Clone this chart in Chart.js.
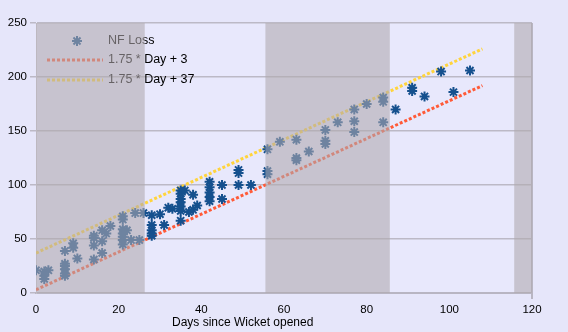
<!DOCTYPE html>
<html>
<head>
<meta charset="utf-8">
<script src="https://cdn.jsdelivr.net/npm/chart.js@4/dist/chart.umd.min.js"></script>
<style>
  html, body { margin: 0; padding: 0; background: #e6e6fa; }
  #wrap { width: 568px; height: 332px; }
</style>
</head>
<body>
<div id="wrap"><canvas id="lossChart"></canvas></div>
<script>
// NF loss readings: day since the wicket opened, and loss value
const lossDays = [
  0, 2, 2, 2, 3,
  7, 7, 7, 7, 7, 7,
  9, 9, 10,
  14, 14, 14, 14,
  16, 16, 16, 17, 18,
  21, 21, 21, 21, 21, 21, 21, 22, 23, 24, 25, 26,
  28, 28, 28, 28, 28, 30, 31, 32, 33,
  35, 35, 35, 35, 35, 35, 35, 36, 37, 38, 38, 39,
  42, 42, 42, 42, 42, 45, 45,
  49, 49, 49, 52,
  56, 56, 56, 59, 63, 63, 63, 66,
  70, 70, 70, 73, 77, 77, 77, 80,
  84, 84, 84, 87, 91, 91, 94, 98, 101, 105
];
const lossValues = [
  21, 20, 16, 13, 21,
  39, 27, 25, 22, 18, 16,
  46, 42, 32,
  53, 51, 44, 31,
  58, 48, 37, 55, 62,
  71, 68, 59, 55, 52, 49, 45, 58, 49, 74, 49, 74,
  72, 63, 58, 55, 53, 73, 63, 79, 78,
  95, 92, 87, 84, 80, 76, 67, 95, 75, 91, 77, 81,
  103, 98, 93, 89, 85, 100, 87,
  114, 111, 100, 100,
  133, 113, 110, 140, 142, 125, 123, 131,
  151, 141, 138, 158, 170, 159, 149, 175,
  181, 177, 158, 170, 190, 187, 182, 205, 186, 206
];

// reference lines 1.75 * Day + c, end points
const lineDays = [0, 108];
const lowLine = [3, 192];
const highLine = [37, 226];

// shaded periods along the day axis
const bandStarts = [0, 55.5, 115.7];
const bandEnds = [26.3, 85.6, 120];

const xTicks = [0, 20, 40, 60, 80, 100, 120];
const yTicks = [0, 50, 100, 150, 200, 250];

const FONT = "'Liberation Sans', Arial, sans-serif";
const BLUE = "#15508e";
const RED = "#ff5a38";
const YELLOW = "#ffd43c";

const lossPoints = lossDays.map((d, i) => ({ x: d, y: lossValues[i] }));
const lowPoints = lineDays.map((d, i) => ({ x: d, y: lowLine[i] }));
const highPoints = lineDays.map((d, i) => ({ x: d, y: highLine[i] }));

// background + plot frame
const backdrop = {
  id: "backdrop",
  beforeDraw(chart) {
    const { ctx, chartArea: a } = chart;
    ctx.save();
    ctx.fillStyle = "#e6e6fa";
    ctx.fillRect(0, 0, chart.width, chart.height);
    ctx.fillStyle = "#e8e8fc";
    ctx.fillRect(a.left, a.top, a.right - a.left, a.bottom - a.top);
    ctx.restore();
  },
  afterDatasetsDraw(chart) {
    const { ctx, chartArea: a } = chart;
    ctx.save();
    ctx.strokeStyle = "#b8b5c2";
    ctx.lineWidth = 2;
    ctx.beginPath();
    ctx.moveTo(a.right, a.top);
    ctx.lineTo(a.right, a.bottom + 6);
    ctx.stroke();
    ctx.restore();
  }
};

// legend drawn inside the plot, top left
const innerLegend = {
  id: "innerLegend",
  afterDatasetsDraw(chart) {
    const { ctx } = chart;
    const ds = chart.data.datasets;
    ctx.save();
    ctx.font = "12.5px " + FONT;
    ctx.textBaseline = "middle";
    ctx.fillStyle = "#000";

    // star marker
    ctx.strokeStyle = BLUE;
    ctx.lineWidth = 2;
    const cx = 77, cy = 41, r = 5;
    ctx.beginPath();
    for (let k = 0; k < 4; k++) {
      const ang = k * Math.PI / 4;
      ctx.moveTo(cx - r * Math.cos(ang), cy - r * Math.sin(ang));
      ctx.lineTo(cx + r * Math.cos(ang), cy + r * Math.sin(ang));
    }
    ctx.stroke();
    ctx.fillText(ds[0].label, 108, 41);

    [[ds[1], 60], [ds[2], 80]].forEach(([d, y]) => {
      ctx.strokeStyle = d.borderColor;
      ctx.lineWidth = 3;
      ctx.setLineDash([3, 2]);
      ctx.beginPath();
      ctx.moveTo(47, y);
      ctx.lineTo(103, y);
      ctx.stroke();
      ctx.setLineDash([]);
      ctx.fillText(d.label, 108, y);
    });
    ctx.restore();
  }
};

// translucent grey periods laid over everything in the plot
const bands = {
  id: "bands",
  afterDraw(chart) {
    const { ctx, chartArea: a, scales: { x } } = chart;
    ctx.save();
    ctx.fillStyle = "rgba(176, 168, 174, 0.58)";
    bandStarts.forEach((s, i) => {
      const x0 = x.getPixelForValue(s);
      const x1 = x.getPixelForValue(bandEnds[i]);
      ctx.fillRect(x0, a.top, x1 - x0, a.bottom - a.top);
    });
    // axis title, set under the middle of the data
    ctx.fillStyle = "#000";
    ctx.font = "12px " + FONT;
    ctx.textAlign = "center";
    ctx.textBaseline = "middle";
    ctx.fillText("Days since Wicket opened", x.getPixelForValue(50), 323);
    ctx.restore();
  }
};

new Chart(document.getElementById("lossChart"), {
  type: "scatter",
  data: {
    datasets: [
      {
        label: "NF Loss",
        data: lossPoints,
        pointStyle: "star",
        pointRadius: 5,
        borderWidth: 2,
        borderColor: BLUE,
        backgroundColor: BLUE,
      },
      {
        label: "1.75 * Day + 3",
        type: "line",
        data: lowPoints,
        borderColor: RED,
        borderWidth: 3,
        borderDash: [3, 2],
        pointRadius: 0,
        fill: false,
      },
      {
        label: "1.75 * Day + 37",
        type: "line",
        data: highPoints,
        borderColor: YELLOW,
        borderWidth: 3,
        borderDash: [3, 2],
        pointRadius: 0,
        fill: false,
      },
    ],
  },
  options: {
    responsive: true,
    maintainAspectRatio: false,
    animation: false,
    layout: { padding: { top: 23, right: 36, left: 0, bottom: 0 } },
    scales: {
      x: {
        type: "linear",
        min: 0,
        max: 120,
        afterBuildTicks: (s) => { s.ticks = xTicks.map((v) => ({ value: v })); },
        afterFit: (s) => { s.height = 39; },
        grid: { display: false, drawTicks: true, tickLength: 6, tickColor: "#b8b5c2" },
        border: { display: true, color: "#b8b5c2", width: 2 },
        ticks: { color: "#000", padding: 4, font: { family: FONT, size: 11.5 } },
      },
      y: {
        min: 0,
        max: 250,
        afterBuildTicks: (s) => { s.ticks = yTicks.map((v) => ({ value: v })); },
        afterFit: (s) => { s.width = 36; },
        grid: { color: "#bcb9c6", lineWidth: 1.5, tickLength: 6, tickColor: "#bcb9c6" },
        border: { display: true, color: "#cfcdd8", width: 1 },
        ticks: { color: "#000", padding: 3, font: { family: FONT, size: 11.5 } },
      },
    },
    plugins: {
      legend: { display: false },
      tooltip: { enabled: false },
    },
  },
  plugins: [backdrop, innerLegend, bands],
});
</script>
</body>
</html>
